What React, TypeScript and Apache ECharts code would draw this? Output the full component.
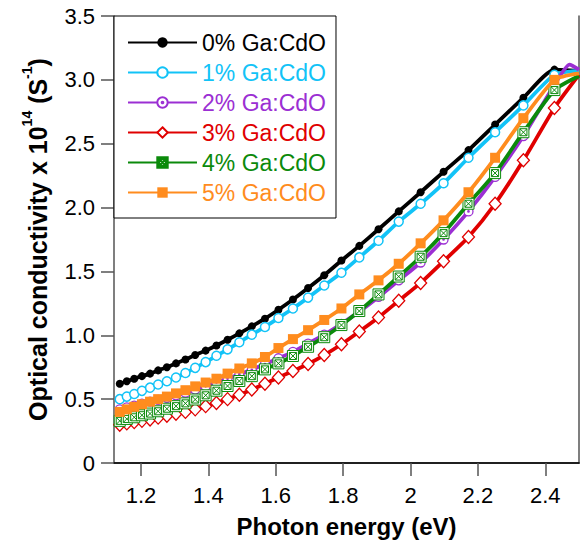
import React, { useEffect, useRef } from "react";
import * as echarts from "echarts";

const energy = [1.137, 1.158, 1.18, 1.203, 1.227, 1.251, 1.277, 1.304, 1.332, 1.361, 1.392, 1.424, 1.457, 1.492, 1.529, 1.568, 1.608, 1.651, 1.696, 1.744, 1.795, 1.848, 1.905, 1.965, 2.03, 2.098, 2.172, 2.251, 2.335, 2.427, 2.5];

const ga0 = [0.62, 0.64, 0.66, 0.68, 0.7, 0.725, 0.75, 0.78, 0.81, 0.845, 0.88, 0.92, 0.965, 1.015, 1.07, 1.13, 1.2, 1.28, 1.37, 1.47, 1.585, 1.7, 1.83, 1.97, 2.12, 2.28, 2.45, 2.65, 2.86, 3.08, 3.07];
const ga1 = [0.5, 0.52, 0.54, 0.565, 0.59, 0.615, 0.64, 0.67, 0.705, 0.745, 0.79, 0.84, 0.89, 0.945, 1.005, 1.065, 1.135, 1.21, 1.295, 1.39, 1.49, 1.61, 1.74, 1.89, 2.03, 2.19, 2.39, 2.59, 2.8, 3.04, 3.07];
const ga2 = [0.42, 0.435, 0.45, 0.465, 0.48, 0.495, 0.51, 0.53, 0.55, 0.575, 0.6, 0.63, 0.66, 0.695, 0.73, 0.775, 0.82, 0.87, 0.935, 1.005, 1.09, 1.185, 1.3, 1.43, 1.57, 1.75, 1.97, 2.24, 2.56, 2.96, 3.08];
const ga2Peak = [2.472, 3.12];
const ga3 = [0.3, 0.31, 0.32, 0.33, 0.34, 0.355, 0.37, 0.385, 0.4, 0.42, 0.445, 0.47, 0.5, 0.535, 0.575, 0.62, 0.67, 0.72, 0.775, 0.845, 0.93, 1.03, 1.14, 1.27, 1.41, 1.58, 1.77, 2.03, 2.37, 2.78, 3.04];
const ga4 = [0.33, 0.345, 0.358, 0.374, 0.387, 0.405, 0.425, 0.445, 0.467, 0.497, 0.53, 0.566, 0.603, 0.642, 0.68, 0.733, 0.78, 0.838, 0.91, 0.985, 1.08, 1.19, 1.32, 1.46, 1.615, 1.8, 2.03, 2.27, 2.59, 2.92, 3.03];
const ga5 = [0.4, 0.42, 0.44, 0.46, 0.48, 0.5, 0.52, 0.545, 0.57, 0.6, 0.63, 0.66, 0.7, 0.74, 0.78, 0.83, 0.9, 0.97, 1.04, 1.12, 1.21, 1.32, 1.43, 1.56, 1.72, 1.9, 2.12, 2.39, 2.7, 3.0, 3.05];

const names = ["0% Ga:CdO", "1% Ga:CdO", "2% Ga:CdO", "3% Ga:CdO", "4% Ga:CdO", "5% Ga:CdO"];
const colors = ["#000000", "#12c3f7", "#9b2fd3", "#e00000", "#0b8a0b", "#ff8c1e"];
const xTickValues = [1.2, 1.4, 1.6, 1.8, 2.0, 2.2, 2.4];

const FONT = "'Liberation Sans', Arial, Helvetica, sans-serif";

function buildData(vals: number[], extra?: number[]) {
  const out: any[] = [];
  energy.forEach((x, i) => {
    const last = i === energy.length - 1;
    if (last && extra) out.push({ value: extra, symbol: "none" });
    out.push(last ? { value: [x, vals[i]], symbol: "none" } : [x, vals[i]]);
  });
  return out;
}

export default function App() {
  const ref = useRef<HTMLDivElement>(null);
  useEffect(() => {
    const chart = echarts.init(ref.current!, null, { renderer: "svg" });
    const all = [ga0, ga1, ga2, ga3, ga4, ga5];
    const symbols: any[] = [
      { symbol: "circle", symbolSize: 8, itemStyle: { color: colors[0] } },
      { symbol: "circle", symbolSize: 9, itemStyle: { color: "#fff", borderColor: colors[1], borderWidth: 1.5 } },
      {
        symbol: "path://M5,0A5,5,0,1,1,5,10A5,5,0,1,1,5,0Z M5,4.2A0.8,0.8,0,1,1,5,5.8A0.8,0.8,0,1,1,5,4.2Z",
        symbolSize: 9,
        itemStyle: { color: "#fff", borderColor: colors[2], borderWidth: 1.3 },
      },
      { symbol: "diamond", symbolSize: [12, 13], itemStyle: { color: "#fff", borderColor: colors[3], borderWidth: 1.3 } },
      {
        symbol: "path://M0,0H10V10H0Z M1.8,1.8H8.2V8.2H1.8Z M1.8,1.8L8.2,8.2 M8.2,1.8L1.8,8.2",
        symbolSize: 11,
        itemStyle: { color: "#fff", borderColor: colors[4], borderWidth: 1 },
      },
      { symbol: "rect", symbolSize: 10, itemStyle: { color: colors[5] } },
    ];
    const series = all.map((vals, i) => ({
      type: "line",
      name: names[i],
      data: buildData(vals, i === 2 ? ga2Peak : undefined),
      smooth: 0.2,
      clip: true,
      lineStyle: { color: colors[i], width: 3.8 },
      ...symbols[i],
      z: 2 + i,
    }));
    chart.setOption({
      animation: false,
      backgroundColor: "#fff",
      textStyle: { fontFamily: FONT },
      grid: { left: 114, right: 1, top: 16, bottom: 81, containLabel: false },
      legend: {
        orient: "vertical",
        left: 114,
        top: 16,
        itemWidth: 69,
        itemHeight: 13,
        itemGap: 7,
        padding: [15, 10, 14, 13],
        borderColor: "#000",
        borderWidth: 1,
        backgroundColor: "#fff",
        textStyle: { fontSize: 23, fontFamily: FONT, lineHeight: 22 },
        data: names.map((n, i) => ({ name: n, textStyle: { color: colors[i] } })),
      },
      xAxis: [
        {
          type: "value",
          min: 1.12,
          max: 2.5,
          name: "Photon energy (eV)",
          nameLocation: "middle",
          nameGap: 51,
          nameTextStyle: { fontSize: 24, fontWeight: "bold", color: "#000", fontFamily: FONT },
          axisLine: { show: true, lineStyle: { color: "#555", width: 1.5 } },
          axisTick: { show: true, length: 13, customValues: xTickValues, lineStyle: { color: "#555", width: 1.5 } },
          axisLabel: { customValues: xTickValues, fontSize: 22, color: "#000", margin: 21, fontFamily: FONT },
          splitLine: { show: false },
        },
        {
          type: "value",
          position: "top",
          min: 1.12,
          max: 2.5,
          axisLine: { show: true, lineStyle: { color: "#000", width: 1.5 } },
          axisTick: { show: false },
          axisLabel: { show: false },
          splitLine: { show: false },
        },
      ],
      yAxis: [
        {
          type: "value",
          min: 0,
          max: 3.5,
          interval: 0.5,
          name: "{b|Optical conductivity x 10}{s|14}{b| (S}{s|-1}{b|)}",
          nameLocation: "middle",
          nameGap: 64,
          nameTextStyle: {
            fontSize: 25,
            fontWeight: "bold",
            color: "#000",
            fontFamily: FONT,
            rich: {
              b: { fontSize: 25, fontWeight: "bold", fontFamily: FONT, color: "#000", lineHeight: 30, verticalAlign: "bottom" },
              s: { fontSize: 14, fontWeight: "bold", fontFamily: FONT, color: "#000", lineHeight: 30, verticalAlign: "top" },
            },
          },
          axisLine: { show: true, lineStyle: { color: "#555", width: 1.5 } },
          axisTick: { show: true, length: 13, lineStyle: { color: "#555", width: 1.5 } },
          axisLabel: {
            fontSize: 22,
            color: "#000",
            margin: 19,
            fontFamily: FONT,
            formatter: (v: number) => (v === 0 ? "0" : v.toFixed(1)),
          },
          splitLine: { show: false },
        },
        {
          type: "value",
          position: "right",
          min: 0,
          max: 3.5,
          interval: 0.5,
          axisLine: { show: true, lineStyle: { color: "#555", width: 1.5 } },
          axisTick: { show: false },
          axisLabel: { show: false },
          splitLine: { show: false },
        },
      ],
      series,
    });
    return () => chart.dispose();
  }, []);
  return <div ref={ref} style={{ position: "fixed", left: 0, top: 0, width: 580, height: 544 }} />;
}
